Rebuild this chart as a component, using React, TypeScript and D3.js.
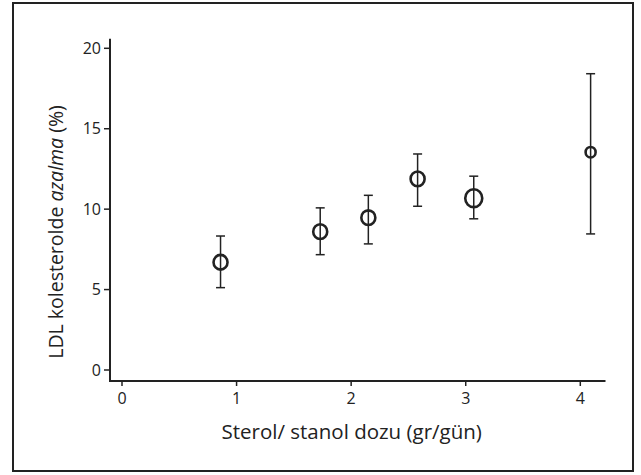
import React from "react";
import * as d3 from "d3";

const doses = [0.86, 1.73, 2.15, 2.58, 3.07, 4.09];
const means = [6.7, 8.6, 9.47, 11.88, 10.68, 13.54];
const upper = [8.33, 10.08, 10.86, 13.43, 12.05, 18.42];
const lower = [5.12, 7.17, 7.84, 10.18, 9.4, 8.46];
const weights = [7, 7, 7, 7, 8.5, 5];
const xTicks = [0, 1, 2, 3, 4];
const yTicks = [0, 5, 10, 15, 20];

const W = 641;
const H = 475;
const FONT = "'Open Sans', 'Noto Sans', sans-serif";
const INK = "#222";

export default function App() {
  const x = d3.scaleLinear().domain([0, 4]).range([122, 580.3]);
  const y = d3.scaleLinear().domain([0, 20]).range([370, 48.3]);
  const axisY = 381;
  const axisX = 110;
  const xEnd = x(4.22);
  const yTop = y(20.6);

  return (
    <svg
      width={W}
      height={H}
      style={{ position: "absolute", left: 0, top: 0, background: "#fff" }}
    >
      <rect x={13} y={3} width={620} height={468} fill="#fff" stroke={INK} strokeWidth={2} />
      {/* axes */}
      <path d={`M${axisX},${yTop} V${axisY} H${xEnd}`} fill="none" stroke={INK} strokeWidth={2} />
      {yTicks.map((t) => (
        <g key={"y" + t}>
          <line x1={axisX - 6} x2={axisX} y1={y(t)} y2={y(t)} stroke={INK} strokeWidth={1.5} />
          <text x={axisX - 9} y={y(t)} dy="0.35em" textAnchor="end" fontFamily={FONT} fontSize={16} fill={INK}>
            {t}
          </text>
        </g>
      ))}
      {xTicks.map((t) => (
        <g key={"x" + t}>
          <line x1={x(t)} x2={x(t)} y1={axisY} y2={axisY + 5} stroke={INK} strokeWidth={1.5} />
          <text x={x(t)} y={398} dy="0.35em" textAnchor="middle" fontFamily={FONT} fontSize={16} fill={INK}>
            {t}
          </text>
        </g>
      ))}
      <text x={351.7} y={432} dy="0.35em" textAnchor="middle" fontFamily={FONT} fontSize={20.5} fill={INK}>
        Sterol/ stanol dozu (gr/gün)
      </text>
      <text
        transform={`translate(56,232) rotate(-90)`}
        dy="0.35em"
        textAnchor="middle"
        fontFamily={FONT}
        fontSize={19.5}
        fill={INK}
      >
        LDL kolesterolde <tspan fontStyle="italic">azalma</tspan> (%)
      </text>
      {/* error bars and points */}
      {doses.map((d, i) => {
        const cx = x(d);
        return (
          <g key={"p" + i}>
            <line x1={cx} x2={cx} y1={y(upper[i])} y2={y(lower[i])} stroke={INK} strokeWidth={1.5} />
            <line x1={cx - 4.5} x2={cx + 4.5} y1={y(upper[i])} y2={y(upper[i])} stroke={INK} strokeWidth={1.5} />
            <line x1={cx - 4.5} x2={cx + 4.5} y1={y(lower[i])} y2={y(lower[i])} stroke={INK} strokeWidth={1.5} />
            <ellipse cx={cx} cy={y(means[i])} rx={weights[i]} ry={weights[i] * 1.05} fill="#fff" fillOpacity={0} stroke={INK} strokeWidth={2.6} />
          </g>
        );
      })}
    </svg>
  );
}
